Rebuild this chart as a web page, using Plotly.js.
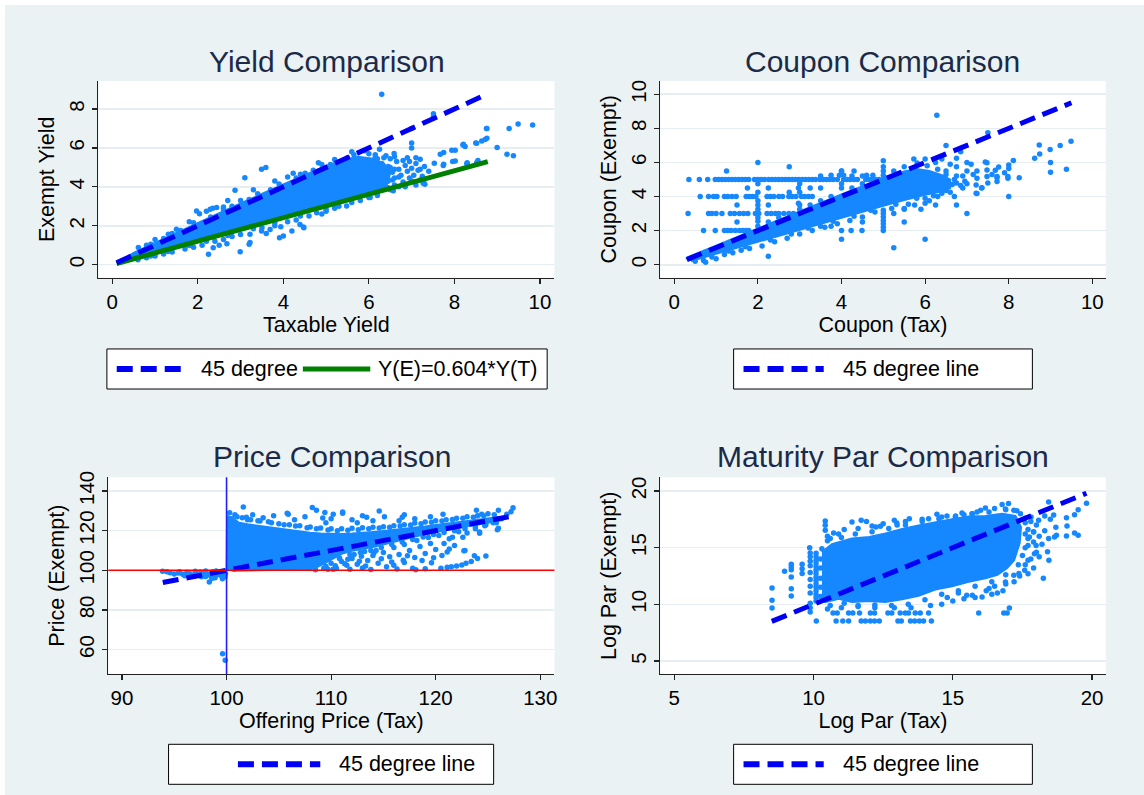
<!DOCTYPE html>
<html><head><meta charset="utf-8">
<script src="https://cdn.plot.ly/plotly-3.0.1.min.js"></script>
<style>html,body{margin:0;padding:0;background:#ffffff;} #chart{position:absolute;left:5px;top:5px;width:1139px;height:790px;}</style>
</head><body><div id="chart"></div>
<script>
// ---------------- DATA ----------------
// Panel 1: Yield comparison (Taxable yield, Exempt yield)
const yieldCore = [[0.12,0.1],[0.5,0.6],[1.0,1.12],[1.5,1.64],[2.0,2.14],[2.5,2.65],[3.0,3.15],[3.5,3.65],[4.0,4.13],[4.5,4.6],[5.0,5.07],[5.4,5.38],[5.75,5.55],[6.1,5.45],[6.35,5.2],[6.5,4.8],[6.45,4.2],[6.25,3.85],[5.8,3.5],[5.2,3.12],[4.6,2.74],[4.0,2.37],[3.5,2.06],[3.0,1.76],[2.5,1.46],[2.0,1.16],[1.5,0.86],[1.0,0.56],[0.5,0.27],[0.12,0.06]];
const yieldPoints = [[6.3,8.76],[7.51,7.76],[7.51,7.6],[7.0,7.0],[7.0,6.25],[7.0,6.0],[6.59,5.71],[6.25,5.93],[6.15,5.54],[4.82,5.24],[3.49,4.9],[3.59,4.99],[3.1,4.47],[2.87,3.82],[4.23,4.7],[4.51,4.7],[1.97,2.76],[2.04,2.62],[2.44,2.94],[2.6,2.97],[2.29,2.85],[1.5,1.82],[1.31,1.56],[0.61,0.88],[2.2,2.75],[2.35,2.9],[1.0,1.3],[0.8,1.0],[1.8,2.2],[2.7,3.3],[3.3,3.85],[3.8,4.3],[4.1,4.5],[5.2,5.4],
[2.6,2.85],[3.0,3.3],[3.4,3.65],[3.9,4.15],[4.4,4.65],[4.9,5.15],[1.9,2.15],[1.4,1.6],[5.6,5.8],[5.9,5.85],
[8.76,7.0],[8.76,6.5],[8.64,6.36],[8.52,6.24],[9.0,6.02],[9.28,7.0],[9.49,7.23],[9.83,7.18],[9.23,5.68],[9.38,5.6],[7.31,4.13],[7.28,4.3],[7.2,5.42],[7.67,5.68],[7.75,5.76],[7.94,5.88],[8.02,5.88],[8.21,6.19],[8.25,6.07],[7.75,5.16],[8.02,5.33],[8.29,5.19],[8.52,5.24],[7.53,5.21],[7.74,5.1],[7.27,4.18],[7.96,5.3],[8.3,5.24],[8.55,5.35],[8.2,6.15],[8.5,6.25],[8.72,6.43],[8.75,7.0],
[6.05,5.1],[6.1,4.8],[6.15,4.5],[6.2,4.2],[6.1,4.0],[6.3,5.2],[6.35,4.9],[6.4,4.6],[6.45,4.3],[6.4,4.0],[6.5,5.0],[6.55,4.75],[6.6,4.45],[6.6,4.1],[6.7,4.9],[6.75,4.6],[6.8,4.25],[6.85,5.1],[6.9,4.8],[6.95,4.45],[7.0,4.95],[7.05,4.6],[7.1,5.2],[7.15,4.85],[6.65,5.3],[6.5,5.45],[6.35,5.5],[6.2,5.45],[6.8,5.35],[7.2,4.9],[6.3,3.9],[6.5,3.85],[6.7,4.0],[6.05,3.75],[5.9,4.7],[6.0,4.4],[5.95,3.95],[7.3,5.05],[6.9,5.5],[7.1,5.5],
[6.45,5.05],[6.6,4.9],[6.55,4.35],[6.45,3.95],[6.7,4.5],[6.85,4.0],[7.0,4.3],[7.1,4.1],[6.95,5.3],[7.25,4.55],[7.4,4.8],[7.2,4.35],[6.6,5.55],[6.4,5.6],[6.15,5.65],[6.0,5.7],
[0.9,1.05],[1.2,1.35],[1.6,1.75],[2.3,2.45],[2.8,3.0],[3.2,3.35],[3.7,3.85],[4.3,4.45],[4.7,4.85],[5.1,5.15],[5.5,5.5],[5.65,5.65],
[0.9,0.45],[1.3,0.68],[1.8,0.98],[2.2,1.2],[2.7,1.5],[3.3,1.85],[3.8,2.15],[4.4,2.5],[5.0,2.85],[5.6,3.2],[6.0,3.45],
[5.48,3.02],[6.03,3.45],[6.57,3.8],[4.78,2.67],[4.47,1.94],[4.39,2.07],[4.0,1.48],[3.91,1.39],[4.2,1.73],[3.69,1.81],[3.49,1.73],[3.22,1.57],[3.2,1.05],[2.99,0.67],[2.25,0.53],[2.68,1.08],[2.36,0.87],[3.94,1.95],[4.48,1.9],[3.22,1.14],[5.0,2.75],[5.2,2.9],[4.6,2.5],[4.3,2.3],[4.1,2.2],[3.8,2.0],[3.5,1.9],[3.0,1.55],[2.8,1.45],[2.6,1.3],[2.4,1.2],[2.1,1.0],[1.9,0.9],[1.7,0.8],[1.4,0.65],[1.2,0.55],[1.0,0.45],[0.8,0.35],[0.6,0.25],[5.8,3.3],[6.2,3.55],[5.3,3.0],[4.9,2.6],[3.6,1.6],[2.5,1.0]];
const yield45X = [0.1, 8.78];
const yield45Y = [0.1, 8.78];
const yieldFitX = [0.1, 8.78];
const yieldFitY = [0.06, 5.30];

// Panel 2: Coupon comparison (Coupon tax, Coupon exempt)
const couponCore = [[0.3,0.3],[0.3,0.42],[1.0,1.12],[2.0,2.12],[3.0,3.12],[4.0,4.12],[5.0,5.07],[5.5,5.47],[5.8,5.62],[6.1,5.5],[6.4,5.25],[6.6,5.0],[6.6,4.5],[6.3,4.25],[6.0,4.1],[5.5,3.8],[5.0,3.45],[4.5,3.1],[4.0,2.75],[3.5,2.4],[3.0,2.05],[2.5,1.7],[2.0,1.35],[1.5,1.0],[1.0,0.65],[0.6,0.35],[0.4,0.22]];
const couponPoints = [[0.35,5],[0.6,5],[0.8,5],[0.98,5],[1.06,5],[1.14,5],[1.22,5],[1.3,5],[1.38,5],[1.46,5],[1.54,5],[1.62,5],[1.7,5],[1.78,5],[1.92,5],[2.0,5],[2.08,5],[2.16,5],[2.26,5],[2.34,5],[2.42,5],[2.5,5],[2.58,5],[2.66,5],[2.74,5],[2.82,5],[2.9,5],[2.98,5],[3.06,5],[3.14,5],[3.22,5],[3.3,5],[3.38,5],[3.48,5],[3.56,5],[3.64,5],[3.72,5],[3.8,5],[3.9,5],[4.05,5],[4.13,5],[4.21,5],[4.3,5],[4.38,5],[4.58,5],[4.66,5],[4.74,5],[4.82,5],[4.9,5],[5.0,5],[5.08,5],[5.16,5],[5.25,5],[5.35,5],
[3.75,5.25],[3.95,5.25],[4.05,5.25],[4.25,5.2],[4.0,5.5],[4.3,5.5],[4.6,5.25],[4.75,5.25],[5.0,5.5],[5.0,5.25],[5.25,5.5],[5.5,5.25],[5.5,5.75],[4.5,5.2],[3.5,5.2],
[0.62,4],[0.82,4],[0.94,4],[1.02,4],[1.2,4],[1.28,4],[1.38,4],[1.48,4],[1.72,4],[1.8,4],[1.87,4],[1.95,4],[2.22,4],[2.3,4],[2.38,4],[2.5,4],[2.59,4],[2.74,4],[2.82,4],[2.91,4],[3.04,4],[3.12,4],[3.21,4],[3.3,4],
[0.33,3],[0.82,3],[0.9,3],[1.0,3],[1.14,3],[1.34,3],[1.44,3],[1.56,3],[1.66,3],[1.76,3],[1.94,3],[2.02,3],[2.22,3],[2.32,3],[2.42,3],[2.5,3],[2.62,3],[2.74,3],[2.85,3],
[0.7,2],[0.98,2],[1.2,2],[1.28,2],[1.36,2],[1.46,2],[1.56,2],[1.64,2],[1.72,2],[1.78,2],
[1.5,2.5],[2.0,2.55],[2.25,2.5],[2.5,2.5],[2.65,2.5],[1.5,3.5],[2.0,3.5],[2.25,3.5],[2.97,3.6],[2.25,4.5],[2.97,4.5],[1.75,4.5],[3.25,4.5],[3.5,4.5],[2.75,4.25],
[2.0,2.25],[2.0,2.75],[2.0,3.25],[2.0,3.75],[2.0,4.25],[2.0,4.75],[3.0,4.25],[3.0,4.75],[3.0,3.5],[3.0,3.25],[4.0,4.5],[4.0,4.75],[4.0,5.5],[4.0,2.0],[4.23,2.0],[4.49,2.0],[3.5,2.25],[3.75,2.25],[4.5,2.5],
[5.0,2.0],[5.0,2.2],[5.0,2.4],[5.0,2.6],[5.0,2.8],[5.0,3.0],[5.0,3.2],[5.0,5.75],[5.5,2.5],[5.25,3.0],[5.5,3.3],
[6.28,8.77],[7.5,7.75],[6.5,7.0],[6.85,6.63],[5.73,6.2],[5.81,5.97],[6.0,6.2],[6.25,6.0],[7.44,6.03],[7.48,5.99],[7.48,5.56],[7.48,5.17],[7.24,5.07],[7.22,4.68],[7.22,4.2],[7.35,4.5],[7.72,5.17],[7.72,4.88],[7.98,5.17],[8.0,4.0],[8.11,6.12],[8.25,5.1],[8.0,5.65],[8.0,5.85],[7.24,5.5],[7.68,5.54],[7.76,5.73],[7.36,4.51],[7.24,4.18],[7.72,5.11],[7.98,5.07],[7.0,3.0],[6.75,3.5],[6.0,1.5],[5.25,1.0],[7.0,6.0],[6.75,6.25],[6.5,5.5],[6.75,5.75],[7.0,5.5],[6.9,5.2],[6.7,4.0],[6.6,4.25],[6.9,4.5],[7.0,4.75],[6.75,4.8],[6.5,4.5],[6.3,4.0],[6.1,3.75],[6.25,3.5],[5.75,3.5],[5.5,3.25],[5.9,3.25],[6.0,3.6],[7.1,5.9],[6.6,5.9],[6.4,6.2],[6.05,5.8],[7.5,4.8],[7.6,5.3],[7.9,5.4],[7.15,5.3],[6.95,4.9],
[8.73,7.02],[8.74,6.5],[8.62,6.25],[8.99,6.76],[9.0,6.0],[9.0,5.42],[9.23,7.0],[9.38,5.6],[9.49,7.25],
[2.0,6.0],[2.75,5.75],[1.25,5.5],[5.0,6.1],[2.25,0.5],[4.0,1.5],
[0.5,0.2],[0.7,0.25],[0.9,0.45],[1.0,0.35],[1.2,0.6],[1.4,0.7],[1.6,0.85],[1.8,0.95],[2.1,1.1],[2.4,1.35],[2.7,1.55],[3.0,1.8],[3.3,2.0],[3.6,2.2],[3.9,2.4],[4.2,2.6],[4.5,2.8],[4.8,3.1],[5.2,3.3],[5.6,3.55],[6.0,3.9],[6.4,4.2],[0.75,0.15],
[1.3,0.8],[1.7,1.05],[2.3,1.45],[2.8,1.8],[3.2,2.15],[3.8,2.55],[4.3,2.85],[4.7,3.2],[5.3,3.55],[5.8,3.9],[6.2,4.05],[6.5,4.35],[6.65,4.7],[6.7,5.0],[6.5,5.3],[6.3,5.6],[6.75,5.2],[6.85,4.65],
[2.5,2.75],[3.25,3.5],[3.5,3.75],[3.75,4.0],[4.25,4.5],[4.5,4.75],[4.75,5.0]];
const coupon45X = [0.3, 9.5];
const coupon45Y = [0.3, 9.5];

// Panel 3: Price comparison (Offering price tax, Price exempt)
const priceCore = [[100.0,99.8],[100.05,127.5],[100.6,126.2],[101.2,124],[102,123.2],[103,122.5],[104,121.8],[105,121],[106,120.3],[107,119.5],[108,119],[109,118.5],[110,118.3],[111,118.3],[112,118.5],[113,118.8],[114,119.3],[115,119.8],[116,120.3],[117,120.9],[118,121.5],[119,122.1],[120,122.8],[121,123.5],[122,124.2],[123,124.8],[124,125.5],[125,126.3],[126.1,126.8],[126.5,126],[126,124.8],[125,124],[124,123.2],[123,122.3],[122,121.3],[121,120.3],[120,119.3],[119,118.2],[118,117],[117,115.7],[116,114.3],[115,113],[114,111.8],[113,110.8],[112,109.8],[111,108.3],[110,105.5],[109,102.5],[108,100.6],[106,100.3],[103,100.1],[100.5,99.8]];
const pricePoints = [[93.88,99.5],[94.6,98.8],[95.0,98.2],[95.4,98.6],[95.8,98.0],[96.2,99.0],[96.5,98.3],[96.9,97.6],[97.2,98.6],[97.5,99.2],[97.8,97.8],[98.0,96.9],[98.3,98.2],[98.5,97.0],[98.7,99.3],[98.9,96.2],[99.1,97.8],[99.3,98.8],[99.5,97.2],[99.7,99.4],[99.85,96.8],[99.9,98.3],[95.5,99.3],[96.0,97.2],[97.0,99.5],[98.0,99.6],[99.0,99.6],[94.3,99.3],[97.6,96.8],[98.6,95.9],[99.6,95.8],[98.35,94.1],
[99.62,58.0],[99.87,54.7],
[101.6,131.9],[108.2,131.6],[108.6,130.3],[109.4,129.1],[110.2,128.3],[111.1,129.4],[114.6,129.9],[115.1,127],[105.8,128.8],[101.9,126.7],[111.1,128.7],[105.9,128.3],[109.2,126.4],[113.4,126.7],[116.8,126.7],[120.7,128.3],[123.9,130.3],[124.4,128.3],[126.0,130.3],[127.4,131.5],[126.0,121.2],[124.2,119.3],[122.7,109.9],[123.7,107.4],
[124.0,106.0],[124.8,107.2],[123.4,104.4],[122.9,103.5],[122.5,102.7],[122.0,102.2],[121.5,101.8],[121.1,101.5],[120.5,101.0],[119.6,103.8],[120.6,107.5],[121.1,109.2],[121.3,115.9],[121.6,116.7],[122.6,116.7],[121.3,110.8],[122.8,110],[124.2,118.7],[125.9,120.4],[118.1,100.3],[115.3,101.8],[116.9,105.1],[115.6,106.8],
[108.5,101.5],[109,104],[109.5,102],[110,103.5],[110.5,101],[111,104.5],[111.5,102.5],[112,106],[112.5,103],[113,101.2],[113.5,105],[114,107.5],[114.5,103.5],[115,109],[116,102.5],[116.5,108],[117,104],[117.5,110],[118,106.5],[118.5,112],[119,108.5],[119.5,113.5],[120,110.5],[117.8,101],[119,100.8],[113.8,100.4],[111.8,100.6],[110.2,100.5],[112.2,108],[113.2,109.5],[114.3,110],[116,111.5],[117,113],[118.2,115],[119.3,116.5],[120.3,117.5],[110.8,106.2],[109.8,107],[108.8,106.5],[120.8,113.5],[121.8,112.5],
[108.5,100.3],[109.3,101],[109.7,100.6],[110.4,102.3],[111.3,103.3],[112.7,104.6],[113.3,102.2],[114.8,105.8],[115.8,104.2],[116.3,100.7],[117.3,107.3],[118.7,104.9],[119.8,106.3],[112.9,107.1],[114.1,108.8],[111.6,105.6],
[122.2,119.5],[123,118.8],[123.8,121],[124.7,122.5],[125.5,124],[126.3,126],[126.8,128.2],[127.2,129.5],[125,128.5],[124,127.5],[123,127],[122,126.3],[121,125.5],[120,125],[119,124.3],[118,123.8],[117,123],[116,122.5],[115,122],[114,121.7],[113,121.5],[112,121.2],[111,121],[110,121],[109,121.3],[108,121.8],[107,122.5],[106,123],[105,123.5],[104,124.5],[103,125],[102,125.5],[101,127],[100.3,129],[100.5,126],[103.5,126.5],[106.5,125.5],[109.5,124],[112.5,124],[114,125],[116.5,125],[118,126],[119.5,127],[110,126],[107.5,127],[104.5,127.5],[102.5,128],[113,127.5],[117,128],[112,125.5],
[100.8,128],[101.5,126.5],[102.3,125.5],[103.2,124.8],[104.3,124],[105.5,123],[106.6,122.3],[107.7,121.5],[108.6,121],[109.7,120.3],[110.6,120],[111.6,120.2],[112.6,120.4],[113.6,120.9],[114.6,121.3],[115.6,121.7],[116.6,122.3],[117.6,122.9],[118.6,123.5],[119.6,124.2],[120.6,124.8],[121.6,125.6],[122.6,126.2],[123.6,126.8],[124.6,127.5],[125.6,128],
[110.8,106],[111.8,108],[112.8,109],[113.8,110],[114.8,111.5],[115.8,113],[116.8,114.3],[117.8,115.5],[118.8,116.8],[119.8,118],[120.8,119],[121.8,120],[122.8,121],[123.8,122],[124.8,123],[125.8,124]];
const price45X = [93.9, 127.4];
const price45Y = [93.9, 127.4];
const priceRefLevel = 100;

// Panel 4: Maturity par comparison (Log par tax, Log par exempt)
const parCore = [[10.3,14.6],[10.66,15.3],[11.38,15.8],[12.0,15.95],[12.58,16.25],[13.18,16.65],[13.77,16.95],[14.37,17.25],[14.97,17.5],[15.57,17.75],[16.17,17.8],[16.77,18.0],[17.25,17.8],[17.45,16.8],[17.4,15.4],[17.2,13.9],[16.95,13.2],[16.6,12.6],[16.17,12.3],[15.57,12.0],[14.97,11.6],[14.37,11.3],[13.77,10.75],[13.18,10.45],[12.58,10.2],[11.98,10.3],[11.38,10.2],[10.9,10.5],[10.42,10.2],[10.3,10.4]];
const parPoints = [[10.1,8.53],[10.81,8.53],[11.05,8.53],[11.26,8.53],[11.71,8.53],[11.86,8.53],[12.04,8.53],[12.19,8.53],[12.36,8.53],[13.03,8.53],[13.15,8.53],[13.48,8.53],[13.63,8.53],[13.8,8.53],[13.95,8.53],[14.23,8.53],
[10.7,9.24],[10.85,9.24],[11.26,9.24],[11.41,9.24],[11.65,9.24],[12.04,9.24],[12.19,9.24],[12.67,9.24],[12.81,9.24],[13.11,9.24],[13.29,9.24],[13.41,9.24],[13.65,9.24],[13.83,9.24],[14.13,9.24],[15.93,9.24],[16.83,9.24],[16.95,9.24],[17.03,9.68],
[8.51,11.44],[8.51,10.36],[8.51,9.68],[9.2,13.53],[9.2,13.3],[9.2,13.06],[9.2,12.41],[9.2,11.38],[9.2,10.74],[8.96,12.92],[9.59,13.53],[9.59,13.15],[9.59,12.71],[9.86,15.0],
[9.88,14.53],[9.88,14.2],[9.88,13.8],[9.88,13.4],[9.88,12.8],[9.88,12.2],[9.88,11.6],[9.88,11.0],[9.88,10.1],[9.88,9.7],[9.88,9.32],
[10.09,14.5],[10.09,14.2],[10.09,13.9],[10.09,13.6],[10.09,13.3],[10.09,13.0],[10.09,12.7],[10.09,12.4],[10.09,12.1],[10.09,11.8],[10.09,11.5],[10.09,11.2],[10.09,10.9],[10.09,10.6],[10.09,10.3],
[10.42,17.36],[10.42,16.97],[10.42,16.53],[10.72,16.3],[11.38,17.27],[11.71,17.42],[12.24,16.83],[12.4,16.88],[12.9,17.42],[12.99,17.18],[13.44,17.56],[14.13,17.56],[14.43,17.94],[14.79,17.8],[15.09,17.7],[15.33,18.06],[15.69,18.0],[15.87,18.15],[16.17,18.5],[16.77,18.8],[17.0,18.9],[16.89,18.4],[17.19,18.3],[17.43,18.0],
[11.1,16.6],[11.6,16.7],[12.1,16.9],[11.9,17.3],[12.5,17.1],[13.0,17.0],[13.3,17.3],[13.9,17.5],[14.6,17.7],[15.4,17.9],[16.0,18.3],[16.5,18.45],[10.6,15.8],[10.5,16.0],[10.9,16.2],
[10.5,15.6],[11.0,15.9],[11.5,16.2],[12.1,16.4],[12.7,16.7],[13.3,17.0],[13.9,17.3],[14.5,17.55],[15.1,17.8],[15.7,18.0],[16.3,18.15],[16.9,18.35],[17.3,18.25],
[17.6,17.2],[17.7,16.6],[17.7,15.8],[17.6,15.0],[17.5,14.3],[17.35,13.5],
[16.9,12.6],[16.4,12.0],[15.8,11.6],[15.2,11.2],[14.6,10.9],[14.0,10.4],[13.4,10.0],[12.8,9.9],[12.2,9.95],[11.6,9.9],[11.1,10.1],[10.6,9.9],
[10.3,14.9],[10.25,14.0],[10.25,13.2],[10.25,12.3],[10.25,11.5],[10.25,10.7],
[18.44,19.03],[18.62,17.89],[19.08,17.63],[19.1,16.9],[19.37,17.9],[19.5,18.34],[19.8,18.92],[19.08,16.03],[19.37,16.3],[19.5,16.1],[18.25,12.3],[18.4,14.65],[18.45,13.9],[18.7,16.8],[18.72,16.1],[18.0,14.6],[18.44,15.8],[18.65,15.94],
[17.6,17.6],[17.8,17.3],[17.9,16.4],[18.0,17.0],[18.1,16.0],[17.7,15.2],[17.9,15.5],[18.2,15.3],[18.1,14.2],[17.8,14.0],[17.6,13.5],[17.9,13.2],[18.3,17.8],[18.5,17.5],[18.3,16.5],[17.6,16.2],[17.7,12.7],[17.4,12.5],[17.2,12.0],[16.9,11.8],[16.5,11.6],[16.8,11.2],[16.3,11.4],[15.5,10.8],[15.2,11.0],[15.8,10.6],[16.4,10.9],
[18.08,17.42],[17.81,17.7],[17.75,15.94],[17.9,16.39],[17.99,15.2],[17.93,14.47],[17.7,13.89],[17.58,13.0],[17.37,12.71],[17.19,12.56],[16.89,11.97],
[16.05,10.65],[15.7,10.8],[16.2,11.2],[15.0,10.3],[14.6,10.0],[14.2,9.9],[13.5,9.7],[12.9,9.7],[12.2,9.7],[11.6,9.8],[11.0,9.7],[10.5,9.6],[14.8,10.6],[15.4,10.5],[16.6,11.0]];
const par45X = [8.5, 19.8];
const par45Y = [8.5, 19.8];

// Tick labels
const yieldXTicks = [0,2,4,6,8,10], yieldYTicks = [0,2,4,6,8];
const couponXTicks = [0,2,4,6,8,10], couponYTicks = [0,2,4,6,8,10];
const priceXTicks = [90,100,110,120,130], priceYTicks = [60,80,100,120,140];
const parXTicks = [5,10,15,20], parYTicks = [5,10,15,20];

// ---------------- STYLE ----------------
const FONT = 'Liberation Sans, Arial, sans-serif';
const DOT = 'rgb(22,136,255)';
const DASHBLUE = '#0000F5';
const GREEN = '#008000';
const TITLE_COLOR = 'rgb(28,42,72)';
const xs = p => p.map(d => d[0]);
const ys = p => p.map(d => d[1]);

function core(p, xa, ya) {
  return {x: xs(p), y: ys(p), xaxis: xa, yaxis: ya, mode: 'lines', fill: 'toself',
          fillcolor: DOT, line: {color: DOT, width: 2}, hoverinfo: 'skip', showlegend: false};
}
function pts(p, xa, ya) {
  return {x: xs(p), y: ys(p), xaxis: xa, yaxis: ya, mode: 'markers', type: 'scatter',
          marker: {color: DOT, size: 5.5, line: {width: 0}}, showlegend: false};
}
function dashLine(x, y, xa, ya, name) {
  return {x: x, y: y, xaxis: xa, yaxis: ya, mode: 'lines', name: name,
          line: {color: DASHBLUE, width: 5, dash: '16px,8px'}, showlegend: false};
}

const data = [
  core(yieldCore, 'x', 'y'), pts(yieldPoints, 'x', 'y'),
  {x: yieldFitX, y: yieldFitY, xaxis: 'x', yaxis: 'y', mode: 'lines', name: 'Y(E)=0.604*Y(T)', line: {color: GREEN, width: 5}, showlegend: false},
  dashLine(yield45X, yield45Y, 'x', 'y', '45 degree'),
  core(couponCore, 'x2', 'y2'), pts(couponPoints, 'x2', 'y2'),
  dashLine(coupon45X, coupon45Y, 'x2', 'y2', '45 degree line'),
  core(priceCore, 'x3', 'y3'), pts(pricePoints, 'x3', 'y3'),
  dashLine(price45X, price45Y, 'x3', 'y3', '45 degree line'),
  core(parCore, 'x4', 'y4'), pts(parPoints, 'x4', 'y4'),
  dashLine(par45X, par45Y, 'x4', 'y4', '45 degree line')
];

const tickFont = {family: FONT, size: 20.5, color: '#000'};
const titleFont = {family: FONT, size: 21.5, color: '#000'};
function xax(domain, range, ticks, title, anchor) {
  return {domain: domain, range: range, anchor: anchor, tickmode: 'array', tickvals: ticks,
          showline: true, linecolor: '#222', linewidth: 1.2, ticks: 'outside', ticklen: 5, tickwidth: 1.2, tickcolor: '#222',
          showgrid: false, zeroline: false, tickfont: tickFont, fixedrange: true,
          title: {text: title, font: titleFont, standoff: 2}};
}
function yax(domain, range, ticks, title, anchor) {
  return {domain: domain, range: range, anchor: anchor, tickmode: 'array', tickvals: ticks, tickangle: -90,
          showline: true, linecolor: '#222', linewidth: 1.2, ticks: 'outside', ticklen: 5, tickwidth: 1.2, tickcolor: '#222',
          showgrid: true, gridcolor: '#E6EEF1', gridwidth: 1.6, zeroline: false, tickfont: tickFont, fixedrange: true,
          title: {text: title, font: titleFont, standoff: 4}};
}

const rowTop = [0.6548, 0.9038], rowBot = [0.1528, 0.4022];
const layout = {
  width: 1139, height: 790,
  margin: {l: 0, r: 0, t: 0, b: 0},
  paper_bgcolor: '#EAF2F3', plot_bgcolor: '#FFFFFF',
  showlegend: false,
  font: {family: FONT},
  xaxis: xax([0.0820, 0.4824], [-0.325, 10.34], yieldXTicks, 'Taxable Yield', 'y'),
  yaxis: yax(rowTop, [-0.67, 9.44], yieldYTicks, 'Exempt Yield', 'x'),
  xaxis2: xax([0.5753, 0.9664], [-0.335, 10.32], couponXTicks, 'Coupon (Tax)', 'y2'),
  yaxis2: yax(rowTop, [-0.763, 10.78], couponYTicks, 'Coupon (Exempt)', 'x2'),
  xaxis3: xax([0.0907, 0.4824], [88.69, 131.36], priceXTicks, 'Offering Price (Tax)', 'y3'),
  yaxis3: yax(rowBot, [47.6, 146.9], priceYTicks, 'Price (Exempt)', 'x3'),
  xaxis4: xax([0.5753, 0.9664], [4.497, 20.49], parXTicks, 'Log Par (Tax)', 'y4'),
  yaxis4: yax(rowBot, [3.83, 21.21], parYTicks, 'Log Par (Exempt)', 'x4'),
  shapes: [
    {type: 'line', xref: 'x3 domain', yref: 'y3', x0: 0, x1: 1, y0: priceRefLevel, y1: priceRefLevel, line: {color: '#FF0000', width: 1.6}, layer: 'above'},
    {type: 'line', xref: 'x3', yref: 'y3 domain', x0: priceRefLevel, x1: priceRefLevel, y0: 0, y1: 1, line: {color: '#2020FF', width: 1.6}, layer: 'above'},
    // legend boxes
    {type: 'rect', xref: 'paper', yref: 'paper', x0: 0.08946, x1: 0.4760, y0: 0.5139, y1: 0.5646, fillcolor: '#fff', line: {color: '#000', width: 1}},
    {type: 'rect', xref: 'paper', yref: 'paper', x0: 0.6397, x1: 0.9020, y0: 0.5139, y1: 0.5646, fillcolor: '#fff', line: {color: '#000', width: 1}},
    {type: 'rect', xref: 'paper', yref: 'paper', x0: 0.1436, x1: 0.4290, y0: 0.01354, y1: 0.06418, fillcolor: '#fff', line: {color: '#000', width: 1}},
    {type: 'rect', xref: 'paper', yref: 'paper', x0: 0.6397, x1: 0.9020, y0: 0.01354, y1: 0.06418, fillcolor: '#fff', line: {color: '#000', width: 1}},
    // legend samples
    {type: 'line', xref: 'paper', yref: 'paper', x0: 0.0981, x1: 0.1558, y0: 0.5392, y1: 0.5392, line: {color: DASHBLUE, width: 6, dash: '16px,8px'}},
    {type: 'line', xref: 'paper', yref: 'paper', x0: 0.2615, x1: 0.3207, y0: 0.5392, y1: 0.5392, line: {color: GREEN, width: 5}},
    {type: 'line', xref: 'paper', yref: 'paper', x0: 0.6484, x1: 0.7188, y0: 0.5392, y1: 0.5392, line: {color: DASHBLUE, width: 6, dash: '16px,8px'}},
    {type: 'line', xref: 'paper', yref: 'paper', x0: 0.2045, x1: 0.2768, y0: 0.03886, y1: 0.03886, line: {color: DASHBLUE, width: 6, dash: '16px,8px'}},
    {type: 'line', xref: 'paper', yref: 'paper', x0: 0.6484, x1: 0.7188, y0: 0.03886, y1: 0.03886, line: {color: DASHBLUE, width: 6, dash: '16px,8px'}}
  ],
  annotations: [
    {text: 'Yield Comparison', xref: 'paper', yref: 'paper', x: 0.2823, y: 0.9291, xanchor: 'center', yanchor: 'middle', showarrow: false, font: {family: FONT, size: 30, color: TITLE_COLOR}},
    {text: 'Coupon Comparison', xref: 'paper', yref: 'paper', x: 0.7708, y: 0.9291, xanchor: 'center', yanchor: 'middle', showarrow: false, font: {family: FONT, size: 30, color: TITLE_COLOR}},
    {text: 'Price Comparison', xref: 'paper', yref: 'paper', x: 0.2867, y: 0.4282, xanchor: 'center', yanchor: 'middle', showarrow: false, font: {family: FONT, size: 30, color: TITLE_COLOR}},
    {text: 'Maturity Par Comparison', xref: 'paper', yref: 'paper', x: 0.7708, y: 0.4282, xanchor: 'center', yanchor: 'middle', showarrow: false, font: {family: FONT, size: 30, color: TITLE_COLOR}},
    {text: '45 degree', xref: 'paper', yref: 'paper', x: 0.1701, y: 0.5392, xanchor: 'left', yanchor: 'middle', showarrow: false, font: {family: FONT, size: 21.5, color: '#000'}},
    {text: 'Y(E)=0.604*Y(T)', xref: 'paper', yref: 'paper', x: 0.3256, y: 0.5392, xanchor: 'left', yanchor: 'middle', showarrow: false, font: {family: FONT, size: 21.5, color: '#000'}},
    {text: '45 degree line', xref: 'paper', yref: 'paper', x: 0.7339, y: 0.5392, xanchor: 'left', yanchor: 'middle', showarrow: false, font: {family: FONT, size: 21.5, color: '#000'}},
    {text: '45 degree line', xref: 'paper', yref: 'paper', x: 0.2919, y: 0.03886, xanchor: 'left', yanchor: 'middle', showarrow: false, font: {family: FONT, size: 21.5, color: '#000'}},
    {text: '45 degree line', xref: 'paper', yref: 'paper', x: 0.7339, y: 0.03886, xanchor: 'left', yanchor: 'middle', showarrow: false, font: {family: FONT, size: 21.5, color: '#000'}}
  ]
};

Plotly.newPlot('chart', data, layout, {displayModeBar: false, staticPlot: true});
</script></body></html>
